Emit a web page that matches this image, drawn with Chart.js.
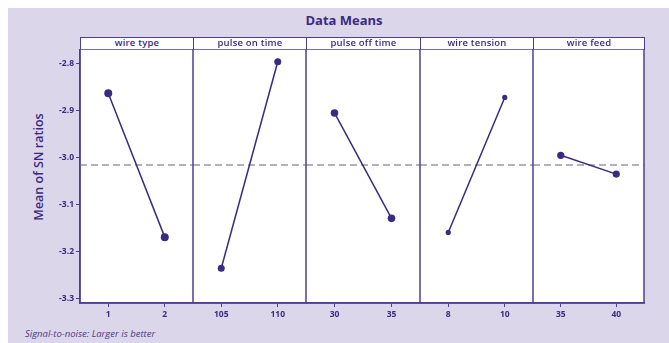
<!DOCTYPE html>
<html><head><meta charset="utf-8">
<script src="https://cdn.jsdelivr.net/npm/chart.js@4.4.1/dist/chart.umd.min.js"></script>
<style>
body{margin:0;background:#fff;width:669px;height:343px;overflow:hidden;position:relative;font-family:"Open Sans",sans-serif;}
#bg{position:absolute;left:8px;top:8px;right:0;bottom:0;background:#dcd6ea;}
.abs{position:absolute;white-space:nowrap;color:#3b2a82;}
canvas{position:absolute;}
.hdr{position:absolute;top:37px;height:13px;box-sizing:border-box;background:#fff;border:1.5px solid #4f3f92;text-align:center;font:600 9.5px "Open Sans",sans-serif;letter-spacing:0.2px;line-height:10px;color:#3b2a82;}
</style></head><body>
<div id="bg"></div>
<div class="abs" style="left:0;width:688px;top:11px;text-align:center;font:bold 13px 'Open Sans',sans-serif;">Data Means</div>
<div class="abs" style="left:38px;top:167px;transform:translate(-50%,-50%) rotate(-90deg);font:600 12.5px 'Open Sans',sans-serif;">Mean of SN ratios</div>
<div class="abs" style="left:25px;top:327px;font:italic 9.5px 'Open Sans',sans-serif;color:#4a3a8c;">Signal-to-noise: Larger is better</div>
<script>
// ---- data ----
const factors = ["wire type", "pulse on time", "pulse off time", "wire tension", "wire feed"];
const wireTypeLevels = ["1", "2"];
const pulseOnLevels = ["105", "110"];
const pulseOffLevels = ["30", "35"];
const tensionLevels = ["8", "10"];
const feedLevels = ["35", "40"];
const wireTypeMeans = [-2.864, -3.170];
const pulseOnMeans = [-3.236, -2.797];
const pulseOffMeans = [-2.906, -3.130];
const tensionMeans = [-3.160, -2.873];
const feedMeans = [-2.996, -3.036];
const yMin = -3.31, yMax = -2.77, yStep = 0.1;

const levels = [wireTypeLevels, pulseOnLevels, pulseOffLevels, tensionLevels, feedLevels];
const means = [wireTypeMeans, pulseOnMeans, pulseOffMeans, tensionMeans, feedMeans];
const allVals = means.flat();
const grandMean = allVals.reduce((a, b) => a + b, 0) / allVals.length;

// ---- layout ----
const edges = [80, 193, 306, 420, 533, 644];
const plotTop = 49, plotBottom = 303, yAxisW = 30, xAxisH = 22;
const ink = "#3b2a82", frame = "#4f3f92";
const radii = [4, 3.5, 3.8, 2.6, 3.6];
const tickFont = { family: "Open Sans", size: 8.5, weight: "bold" };

const panelPlugin = {
  id: "panel",
  beforeDraw(chart) {
    const { ctx, chartArea: a } = chart;
    ctx.save();
    ctx.fillStyle = "#ffffff";
    ctx.fillRect(a.left, a.top, a.right - a.left, a.bottom - a.top);
    ctx.restore();
  },
  beforeDatasetsDraw(chart) {
    const { ctx, chartArea: a, scales } = chart;
    const y = scales.y.getPixelForValue(grandMean);
    ctx.save();
    ctx.strokeStyle = "#9a96ae";
    ctx.lineWidth = 1.5;
    ctx.setLineDash([7, 4]);
    ctx.beginPath(); ctx.moveTo(a.left, y); ctx.lineTo(a.right, y); ctx.stroke();
    ctx.restore();
  },
  afterDraw(chart) {
    const { ctx, chartArea: a } = chart;
    ctx.save();
    ctx.strokeStyle = frame; ctx.lineWidth = 1.5;
    ctx.strokeRect(a.left, a.top, a.right - a.left, a.bottom - a.top);
    ctx.restore();
  }
};

factors.forEach((name, i) => {
  const hdr = document.createElement("div");
  hdr.className = "hdr";
  hdr.style.left = edges[i] + "px";
  hdr.style.width = (edges[i + 1] - edges[i] + 1) + "px";
  hdr.textContent = name;
  document.body.appendChild(hdr);

  const first = i === 0;
  const cv = document.createElement("canvas");
  const w = edges[i + 1] - edges[i] + (first ? yAxisW : 0) + 1;
  const h = plotBottom - plotTop + xAxisH;
  cv.width = w; cv.height = h;
  cv.style.left = (edges[i] - (first ? yAxisW : 0)) + "px";
  cv.style.top = plotTop + "px";
  document.body.appendChild(cv);

  new Chart(cv, {
    type: "line",
    data: {
      labels: levels[i],
      datasets: [{
        data: means[i],
        borderColor: ink, backgroundColor: ink,
        borderWidth: 1.5, pointRadius: radii[i], pointBorderWidth: 0,
        tension: 0, clip: false
      }]
    },
    options: {
      responsive: false, animation: false,
      layout: { padding: { left: 0, top: 0, bottom: 0, right: 1 }, autoPadding: false },
      plugins: { legend: { display: false }, tooltip: { enabled: false } },
      scales: {
        x: {
          type: "category", offset: true,
          afterFit: s => { s.height = xAxisH; s.paddingLeft = 0; s.paddingRight = 0; },
          grid: { drawOnChartArea: false, drawTicks: true, tickLength: 4, color: frame, lineWidth: 1 },
          border: { display: true, color: frame, width: 1.5 },
          ticks: { color: ink, font: tickFont, padding: 2, maxRotation: 0, autoSkip: false }
        },
        y: {
          display: first, min: yMin, max: yMax,
          afterFit: s => { s.width = first ? yAxisW : 0; s.paddingTop = 0; s.paddingBottom = 0; },
          grid: { drawOnChartArea: false, drawTicks: true, tickLength: 4, color: frame, lineWidth: 1 },
          border: { display: true, color: frame, width: 1.5 },
          ticks: { stepSize: yStep, includeBounds: false, color: ink, padding: 2,
                   font: tickFont, callback: v => v.toFixed(1) }
        }
      }
    },
    plugins: [panelPlugin]
  });
});
</script>
</body></html>
